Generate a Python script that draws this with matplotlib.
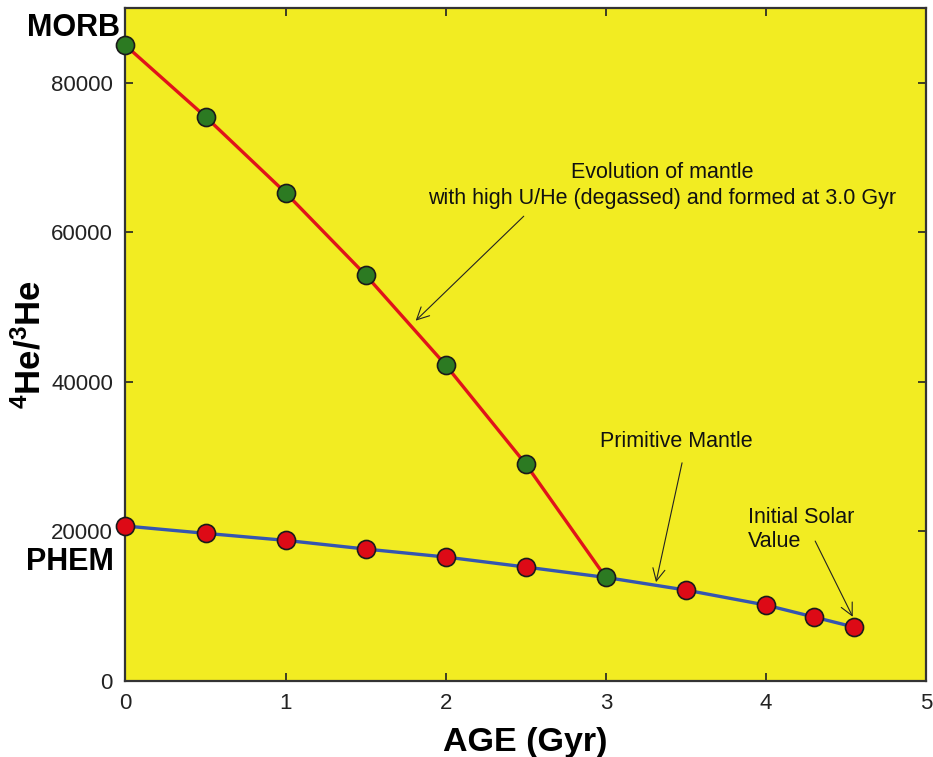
import matplotlib
matplotlib.use("Agg")
import matplotlib.pyplot as plt

plt.rcParams['font.family'] = ['Liberation Sans', 'DejaVu Sans']
plt.rcParams['mathtext.fontset'] = 'custom'
plt.rcParams['mathtext.rm'] = 'Liberation Sans'
plt.rcParams['mathtext.bf'] = 'Liberation Sans:bold'

# Degassed mantle formed at 3.0 Gyr (green points, red line)
age_degassed = [0, 0.5, 1.0, 1.5, 2.0, 2.5, 3.0]
ratio_degassed = [85000, 75450, 65280, 54270, 42220, 28970, 13800]

# Primitive mantle (red points, blue line)
age_primitive = [0, 0.5, 1.0, 1.5, 2.0, 2.5, 3.0, 3.5, 4.0, 4.3, 4.55]
ratio_primitive = [20680, 19700, 18760, 17600, 16530, 15190, 13800, 12110, 10100, 8500, 7160]

xticks = [0, 1, 2, 3, 4, 5]
yticks = [0, 20000, 40000, 60000, 80000]

fig = plt.figure(figsize=(9.33, 7.57), dpi=100)
ax = fig.add_axes([0.1345, 0.101, 0.858, 0.8884])
ax.set_facecolor('#F2EC22')

ax.plot(age_degassed, ratio_degassed, color='#E0141A', lw=2.4, zorder=2)
ax.plot(age_primitive, ratio_primitive, color='#3556B0', lw=2.4, zorder=2)
prim_red = [(a, r) for a, r in zip(age_primitive, ratio_primitive) if a != 3.0]
ax.plot([p[0] for p in prim_red], [p[1] for p in prim_red], ls='none', marker='o',
        ms=13, mfc='#DD0A16', mec='#1a1a1a', mew=1.2, zorder=3, clip_on=False)
ax.plot(age_degassed, ratio_degassed, ls='none', marker='o',
        ms=13, mfc='#2C7A22', mec='#1a1a1a', mew=1.2, zorder=4, clip_on=False)

ax.set_xlim(0, 5)
ax.set_ylim(0, 90000)
ax.set_xticks(xticks)
ax.set_yticks(yticks)
ax.tick_params(direction='in', length=6, width=1.2, top=True, right=True,
               labelsize=16, colors='#222222', pad=9)
for s in ax.spines.values():
    s.set_color('#333333')
    s.set_linewidth(1.6)

ax.set_xlabel('AGE (Gyr)', fontsize=24.5, fontweight='bold', labelpad=9)
ax.set_ylabel(r'$\mathbf{^{4}He/^{3}He}$', fontsize=25)
ax.yaxis.set_label_coords(-0.098, 0.5)

ax.text(-0.035, 87300, 'MORB', fontsize=22, fontweight='bold', ha='right', va='center', clip_on=False)
ax.text(-0.07, 15900, 'PHEM', fontsize=22, fontweight='bold', ha='right', va='center', clip_on=False)

arrow = dict(arrowstyle='->', color='#222222', lw=0.8, mutation_scale=22)
ax.text(3.35, 66300, 'Evolution of mantle\nwith high U/He (degassed) and formed at 3.0 Gyr',
        ha='center', va='center', fontsize=15.5, color='#111111', linespacing=1.3)
ax.annotate('', xy=(1.80, 47900), xytext=(2.50, 62400), arrowprops=arrow)

ax.text(3.44, 32000, 'Primitive Mantle', ha='center', va='center', fontsize=15.5, color='#111111')
ax.annotate('', xy=(3.31, 12800), xytext=(3.48, 29500), arrowprops=arrow)

ax.text(3.89, 20200, 'Initial Solar\nValue', ha='left', va='center', fontsize=15.5,
        color='#111111', linespacing=1.2)
ax.annotate('', xy=(4.55, 8200), xytext=(4.30, 19000), arrowprops=arrow)

fig.savefig('out.png', dpi=100)
